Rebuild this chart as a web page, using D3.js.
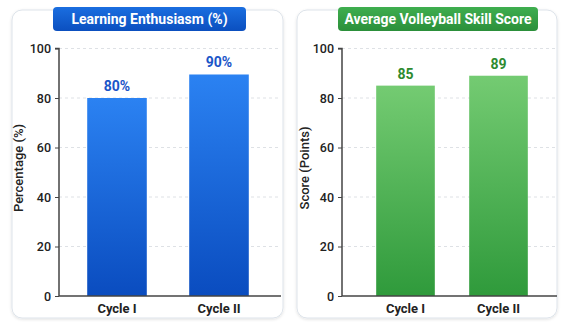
<!DOCTYPE html>
<html><head><meta charset="utf-8">
<script src="https://cdn.jsdelivr.net/npm/d3@7"></script>
<style>
body{margin:0;background:#fff;}
svg{display:block;}
text{font-family:"Roboto","Liberation Sans",sans-serif;}
</style></head>
<body><svg id="c" width="561" height="322"></svg>
<script>
const categories = ["Cycle I", "Cycle II"];
const enthusiasmValues = [80, 89.5];
const enthusiasmLabels = ["80%", "90%"];
const skillValues = [85, 89];
const skillLabels = ["85", "89"];
const yTicks = [0, 20, 40, 60, 80, 100];

const svg = d3.select("#c");
const defs = svg.append("defs");
function grad(id, c1, c2){
  const g = defs.append("linearGradient").attr("id", id).attr("x1",0).attr("y1",0).attr("x2",0).attr("y2",1);
  g.append("stop").attr("offset","0%").attr("stop-color",c1);
  g.append("stop").attr("offset","100%").attr("stop-color",c2);
}
grad("gBlue", "#2b82f2", "#0a4cbf");
grad("gGreen", "#74cb72", "#2f9a3b");
grad("tBlue", "#1a6ee0", "#0b4fbf");
grad("tGreen", "#3fae4f", "#2b8f3a");
const f = defs.append("filter").attr("id","sh").attr("x","-10%").attr("y","-10%").attr("width","120%").attr("height","120%");
f.append("feDropShadow").attr("dx",0).attr("dy",1).attr("stdDeviation",1.5).attr("flood-color","#000").attr("flood-opacity",0.12);

const panels = [
  {card:[12,10,271,308], title:"Learning Enthusiasm (%)", badge:[53,7,193,24], tgrad:"tBlue",
   axisX:59, right:281, bars:[[87,146],[188,249]], values:enthusiasmValues, labels:enthusiasmLabels,
   bgrad:"gBlue", lcol:"#1a55c8", ylabel:"Percentage (%)", ylx:23},
  {card:[297,10,260,308], title:"Average Volleyball Skill Score", badge:[338,7,200,24], tgrad:"tGreen",
   axisX:342, right:557, bars:[[376,434],[468,528]], values:skillValues, labels:skillLabels,
   bgrad:"gGreen", lcol:"#2e8b30", ylabel:"Score (Points)", ylx:309}
];

panels.forEach(p => {
  const g = svg.append("g");
  g.append("rect").attr("x",p.card[0]).attr("y",p.card[1]).attr("width",p.card[2]).attr("height",p.card[3])
    .attr("rx",10).attr("fill","#fff").attr("stroke","#dde3ea").attr("stroke-width",1).attr("filter","url(#sh)");

  const y = d3.scaleLinear().domain([0,100]).range([296,48.5]);
  const w = p.bars[0][1]-p.bars[0][0];
  const step = p.bars[1][0]-p.bars[0][0];
  const pad = (step - w)/step;
  const x2 = d3.scaleBand().domain(categories)
    .range([p.bars[0][0] - pad*step/2, p.bars[1][1] + pad*step/2]).paddingInner(pad).paddingOuter(pad/2);

  g.selectAll(".grid").data(yTicks.filter(t=>t>0)).join("line")
    .attr("x1",p.axisX).attr("x2",p.right).attr("y1",d=>y(d)).attr("y2",d=>y(d))
    .attr("stroke","#d6d9de").attr("stroke-dasharray","3,3").attr("stroke-width",0.8);

  g.selectAll(".bar").data(p.values).join("rect")
    .attr("x",(d,i)=>x2(categories[i])).attr("width",x2.bandwidth())
    .attr("y",d=>y(d)).attr("height",d=>y(0)-y(d)).attr("fill",`url(#${p.bgrad})`);

  g.selectAll(".vl").data(p.values).join("text")
    .attr("x",(d,i)=>x2(categories[i])+x2.bandwidth()/2).attr("y",d=>y(d)-7)
    .attr("text-anchor","middle").attr("font-size",14).attr("font-weight","bold").attr("fill",p.lcol)
    .text((d,i)=>p.labels[i]);

  const ya = g.append("g").attr("transform",`translate(${p.axisX},0)`)
    .call(d3.axisLeft(y).tickValues(yTicks).tickSize(4).tickPadding(4));
  ya.select(".domain").attr("stroke","#444").attr("stroke-width",1.5).attr("d",`M-4,${y(100)}H0V${y(0)}`);
  ya.selectAll(".tick line").attr("stroke","#444");
  ya.selectAll(".tick text").attr("font-size",12.5).attr("fill","#222")
    .attr("font-family",'"Roboto",sans-serif').attr("font-weight","500");

  const xa = g.append("g").attr("transform",`translate(0,${y(0)})`)
    .call(d3.axisBottom(x2).tickSize(0).tickPadding(8));
  xa.select(".domain").attr("stroke","#444").attr("stroke-width",1.5).attr("d",`M${p.axisX},0H${p.right}`);
  xa.selectAll(".tick text").attr("font-size",13).attr("font-weight","bold").attr("fill","#222")
    .attr("font-family",'"Roboto",sans-serif');

  g.append("text").attr("transform",`translate(${p.ylx},168) rotate(-90)`).attr("text-anchor","middle")
    .attr("font-size",13).attr("font-weight","500").attr("fill","#222").text(p.ylabel);

  g.append("rect").attr("x",p.badge[0]).attr("y",p.badge[1]).attr("width",p.badge[2]).attr("height",p.badge[3])
    .attr("rx",4).attr("fill",`url(#${p.tgrad})`);
  g.append("text").attr("x",p.badge[0]+p.badge[2]/2).attr("y",p.badge[1]+p.badge[3]/2+5)
    .attr("text-anchor","middle").attr("font-size",14).attr("font-weight","bold").attr("fill","#fff").text(p.title);
});
</script></body></html>
